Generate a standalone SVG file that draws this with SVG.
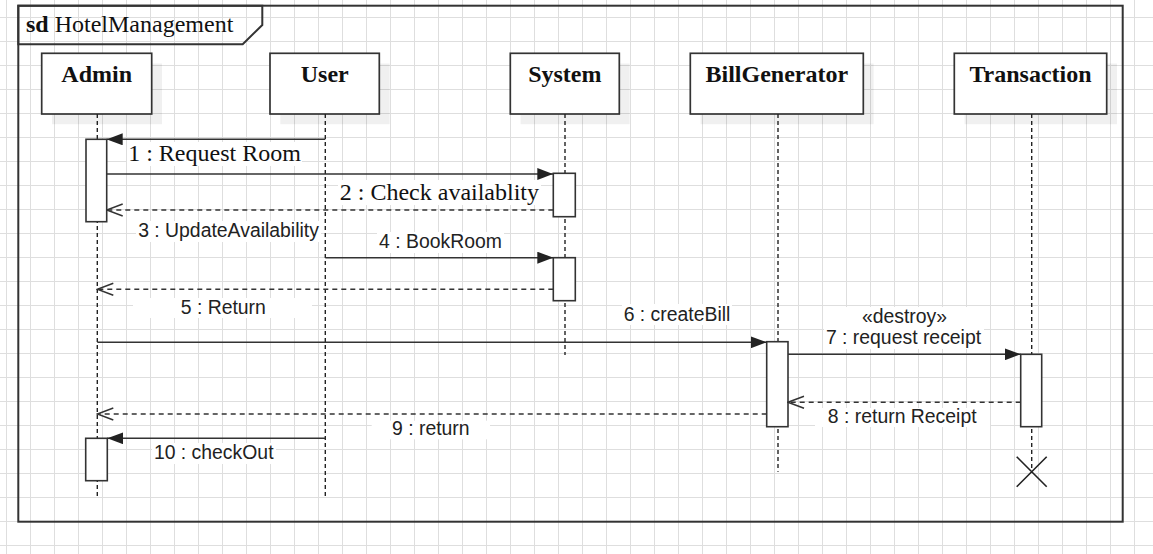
<svg xmlns="http://www.w3.org/2000/svg" width="1153" height="554" viewBox="0 0 1153 554">
<style>
.box{fill:#fff;stroke:#333;stroke-width:1.7}
.shadow{fill:#000;fill-opacity:0.06}
.act{fill:#fff;stroke:#333;stroke-width:1.6}
.life{stroke:#222;stroke-width:1.4;stroke-dasharray:4 3;fill:none}
.msg{stroke:#333;stroke-width:1.6;fill:none}
.ret{stroke:#333;stroke-width:1.4;fill:none;stroke-dasharray:5 4}
.pname{font-family:"Liberation Serif",serif;font-weight:bold;font-size:24px;fill:#111;text-anchor:middle}
.lser{font-family:"Liberation Serif",serif;font-size:24px;fill:#111;text-anchor:middle}
.lsan{font-family:"Liberation Sans",Arial,sans-serif;font-size:19.4px;fill:#222;text-anchor:middle}
.lbg{fill:#fff}
</style>
<defs>
<pattern id="grid" width="24" height="24" patternUnits="userSpaceOnUse" x="6" y="17">
<path d="M0.5 0V24M0 0.5H24" fill="none" stroke="#dedede" stroke-width="1"/>
</pattern>
<marker id="filled" markerUnits="userSpaceOnUse" markerWidth="16" markerHeight="12" viewBox="0 0 16 12" refX="16" refY="6" orient="auto">
<path d="M0,0 L16,6 L0,12 z" fill="#222"/>
</marker>
<marker id="open" markerUnits="userSpaceOnUse" markerWidth="18" markerHeight="14" viewBox="-1 -1 18 14" refX="16" refY="6" orient="auto">
<path d="M0,0 L16,6 L0,12" fill="none" stroke="#333" stroke-width="1.5"/>
</marker>
</defs>
<rect width="1153" height="554" fill="#fff"/>
<rect width="1153" height="554" fill="url(#grid)"/>

<g id="frame">
<rect x="18.3" y="5.7" width="1104.4" height="516" fill="none" stroke="#333" stroke-width="2"/>
<path d="M18.3,5.7 H262.3 V25 L242.7,44.3 H18.3 Z" fill="none" stroke="#333" stroke-width="2"/>
<text x="26" y="31.7" font-family="Liberation Serif,serif" font-size="24" fill="#111"><tspan font-weight="bold">sd</tspan> HotelManagement</text>
</g>

<g id="admin">
<rect class="shadow" x="52" y="63.5" width="110" height="60.7"/>
<rect class="box" x="41.7" y="53.3" width="110" height="60.7"/>
<text class="pname" x="96.7" y="82.3">Admin</text>
<line class="life" x1="97.3" y1="114" x2="97.3" y2="498.3"/>
<rect class="act" x="86" y="139.3" width="20.7" height="82.4"/>
<rect class="act" x="85.7" y="438.3" width="21.6" height="42.4"/>
</g>

<g id="user">
<rect class="shadow" x="280.3" y="63.5" width="109.3" height="60.7"/>
<rect class="box" x="270" y="53.3" width="109.3" height="60.7"/>
<text class="pname" x="324.7" y="82.3">User</text>
<line class="life" x1="325.3" y1="114" x2="325.3" y2="498.3"/>
</g>

<g id="system">
<rect class="shadow" x="520.6" y="63.5" width="109" height="60.7"/>
<rect class="box" x="510.3" y="53.3" width="109" height="60.7"/>
<text class="pname" x="564.8" y="82.3">System</text>
<line class="life" x1="565" y1="114" x2="565" y2="355"/>
<rect class="act" x="553.3" y="173.3" width="22" height="43.4"/>
<rect class="act" x="553.3" y="257.7" width="22" height="43"/>
</g>

<g id="billgenerator">
<rect class="shadow" x="700.6" y="63.5" width="173" height="60.7"/>
<rect class="box" x="690.3" y="53.3" width="173" height="60.7"/>
<text class="pname" x="776.8" y="82.3">BillGenerator</text>
<line class="life" x1="778" y1="114" x2="778" y2="471.7"/>
<rect class="act" x="766.7" y="341.7" width="21.3" height="85"/>
</g>

<g id="transaction">
<rect class="shadow" x="964.6" y="63.5" width="152.4" height="60.7"/>
<rect class="box" x="954.3" y="53.3" width="152.4" height="60.7"/>
<text class="pname" x="1030.5" y="82.3">Transaction</text>
<line class="life" x1="1031.7" y1="114" x2="1031.7" y2="471.7"/>
<rect class="act" x="1020.7" y="354.3" width="21" height="72.4"/>
<path d="M1016.7,456.7 L1046.7,486.7 M1046.7,456.7 L1016.7,486.7" stroke="#222" stroke-width="1.6" fill="none"/>
</g>

<g id="connectors">
<line class="msg" x1="325.3" y1="139.3" x2="106.7" y2="139.3" marker-end="url(#filled)"/>
<rect class="lbg" x="127" y="142" width="175" height="24"/>
<text class="lser" x="214.5" y="161">1 : Request Room</text>

<line class="msg" x1="106.7" y1="174" x2="553.3" y2="174" marker-end="url(#filled)"/>
<rect class="lbg" x="338" y="180" width="203" height="25"/>
<text class="lser" x="439.4" y="200">2 : Check availablity</text>

<line class="ret" x1="553.3" y1="210" x2="106.7" y2="210" marker-end="url(#open)"/>
<rect class="lbg" x="136" y="221" width="185" height="21"/>
<text class="lsan" x="228.5" y="237.3">3 : UpdateAvailability</text>

<line class="msg" x1="325.3" y1="257.7" x2="553.3" y2="257.7" marker-end="url(#filled)"/>
<rect class="lbg" x="377" y="232" width="127" height="21"/>
<text class="lsan" x="440.5" y="248.3">4 : BookRoom</text>

<line class="ret" x1="553.3" y1="289.3" x2="97.3" y2="289.3" marker-end="url(#open)"/>
<rect class="lbg" x="133" y="298" width="179" height="20"/>
<text class="lsan" x="223.3" y="314">5 : Return</text>

<line class="msg" x1="97.3" y1="342.3" x2="766.7" y2="342.3" marker-end="url(#filled)"/>
<rect class="lbg" x="622" y="304" width="110" height="21"/>
<text class="lsan" x="677" y="320.7">6 : createBill</text>

<line class="msg" x1="788" y1="354.3" x2="1020.7" y2="354.3" marker-end="url(#filled)"/>
<rect class="lbg" x="824" y="307" width="160" height="42"/>
<text class="lsan" x="904.5" y="323.3">«destroy»</text>
<text class="lsan" x="903.5" y="344">7 : request receipt</text>

<line class="ret" x1="1020.7" y1="402.3" x2="788" y2="402.3" marker-end="url(#open)"/>
<rect class="lbg" x="815" y="408" width="175" height="19"/>
<text class="lsan" x="902.2" y="423.3">8 : return Receipt</text>

<line class="ret" x1="766.7" y1="414" x2="97.3" y2="414" marker-end="url(#open)"/>
<rect class="lbg" x="371.7" y="420.7" width="118.3" height="18.6"/>
<text class="lsan" x="430.8" y="435">9 : return</text>

<line class="msg" x1="325.3" y1="438.3" x2="107.3" y2="438.3" marker-end="url(#filled)"/>
<rect class="lbg" x="152" y="443" width="124" height="21"/>
<text class="lsan" x="213.7" y="459.3">10 : checkOut</text>
</g>
</svg>
